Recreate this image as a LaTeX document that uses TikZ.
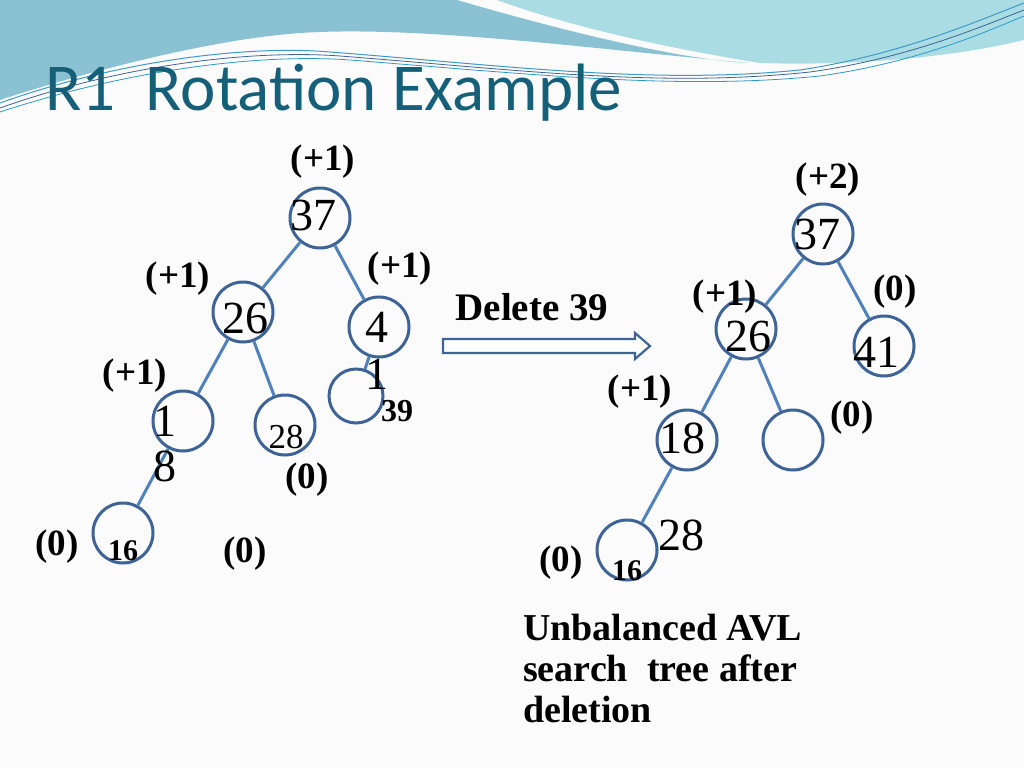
\documentclass[tikz,border=0pt]{standalone}
\usepackage{fontspec}
\setmainfont{Liberation Serif}
\newfontfamily\titlefont{Carlito}
\begin{document}
\begin{tikzpicture}[x=1pt,y=-1pt,
  nd/.style={circle,draw=circ,line width=3pt,minimum size=#1,inner sep=0pt},
  nd/.default=60pt,
  ed/.style={draw=edge,line width=3pt},
  bl/.style={font=\fontsize{37}{39}\selectfont\bfseries,inner sep=0pt},
  num/.style={font=\fontsize{46}{48}\selectfont,inner sep=0pt},
  sm/.style={font=\fontsize{35}{37}\selectfont,inner sep=0pt}]
\definecolor{circ}{HTML}{3E6396}
\definecolor{edge}{HTML}{4F81BD}
\definecolor{bandA}{HTML}{8AC2D4}
\definecolor{bandB}{HTML}{AADDE3}
\definecolor{ttl}{HTML}{165F78}
\useasboundingbox (0,0) rectangle (1024,768);
\fill[white!97!gray] (0,0) rectangle (1024,768);
% header bands
\fill[bandA] (0,0) -- (457,0) .. controls (560,30) and (680,60) .. (750,63)
  .. controls (600,50) and (420,25) .. (300,33) .. controls (200,40) and (60,80) .. (0,100) -- cycle;
\fill[bandB] (497,0) -- (1024,0) -- (1024,40) .. controls (950,58) and (850,66) .. (760,63)
  .. controls (680,50) and (580,30) .. (497,0) -- cycle;
\draw[edge!80!cyan,line width=1pt] (0,103) .. controls (120,60) and (250,45) .. (330,52) .. controls (500,65) and (650,85) .. (800,70) .. controls (900,55) and (980,20) .. (1024,3);
\draw[circ,line width=0.8pt] (0,108) .. controls (130,62) and (260,50) .. (340,56) .. controls (520,70) and (660,88) .. (810,72) .. controls (910,58) and (985,25) .. (1024,10);
\draw[cyan!60!teal,line width=0.8pt] (0,112) .. controls (140,66) and (270,54) .. (350,60) .. controls (540,75) and (680,90) .. (820,76) .. controls (920,62) and (990,30) .. (1024,16);
\node[font=\titlefont\fontsize{67}{69}\selectfont,text=ttl,anchor=base west,inner sep=0pt] (title) at (45,110) {R1\ \ Rotation Example};
% left tree
\node[nd] (a37) at (320,218) {};
\node[nd] (a26) at (243,312) {};
\node[nd] (a41) at (379,327) {};
\node[nd] (a18) at (183,421) {};
\node[nd] (a28) at (285,425) {};
\node[nd=54pt] (a39) at (356,396) {};
\node[nd] (a16) at (123,533) {};
\draw[ed] (a37) -- (a26); \draw[ed] (a37) -- (a41);
\draw[ed] (a26) -- (a18); \draw[ed] (a26) -- (a28);
\draw[ed] (a41) -- (a39); \draw[ed] (a18) -- (a16);
\node[num] (t37) at (313,215) {37};
\node[num] (t26) at (245,318) {26};
\node[num] (t4) at (377,327) {4};
\node[num] (t1b) at (377,374) {1};
\node[num] (t1) at (165,421) {1};
\node[num] (t8) at (165,466) {8};
\node[sm] (t28) at (286,437) {28};
\node[bl,font=\fontsize{32}{34}\selectfont\bfseries] (t39) at (397,411) {39};
\node[bl,font=\fontsize{30}{32}\selectfont\bfseries] (t16) at (123,551) {16};
\node[bl] (l1) at (323,162) {(+1)};
\node[bl] (l2) at (178,279) {(+1)};
\node[bl] (l3) at (400,269) {(+1)};
\node[bl] (l4) at (135,376) {(+1)};
\node[bl] (l5) at (307,480) {(0)};
\node[bl] (l6) at (57,547) {(0)};
\node[bl] (l7) at (245,554) {(0)};
% arrow
\node[bl,font=\fontsize{39}{41}\selectfont\bfseries] (del) at (532,307) {Delete 39};
\draw[circ,line width=2.2pt,fill=white] (443,339) -- (635,339) -- (635,333) -- (650,346) -- (635,359) -- (635,353) -- (443,353) -- cycle;
% right tree
\node[nd] (b37) at (823,234) {};
\node[nd] (b26) at (746,329) {};
\node[nd] (b41) at (884,346) {};
\node[nd] (b18) at (687,440) {};
\node[nd] (be) at (793,440) {};
\node[nd] (b16) at (627,550) {};
\draw[ed] (b37) -- (b26); \draw[ed] (b37) -- (b41);
\draw[ed] (b26) -- (b18); \draw[ed] (b26) -- (be);
\draw[ed] (b18) -- (b16);
\node[num] (u37) at (817,234) {37};
\node[num] (u26) at (748,336) {26};
\node[num] (u41) at (876,352) {41};
\node[num] (u18) at (682,438) {18};
\node[num] (u28) at (681,535) {28};
\node[bl,font=\fontsize{30}{32}\selectfont\bfseries] (u16) at (627,571) {16};
\node[bl] (m1) at (828,180) {(+2)};
\node[bl] (m2) at (725,297) {(+1)};
\node[bl] (m3) at (895,292) {(0)};
\node[bl] (m4) at (640,392) {(+1)};
\node[bl] (m5) at (852,418) {(0)};
\node[bl] (m6) at (561,563) {(0)};
\node[bl,font=\fontsize{38}{41}\selectfont\bfseries,anchor=north west,align=left] (cap) at (523,614) {Unbalanced AVL\\search\ \ tree after\\deletion};
\end{tikzpicture}
\end{document}
